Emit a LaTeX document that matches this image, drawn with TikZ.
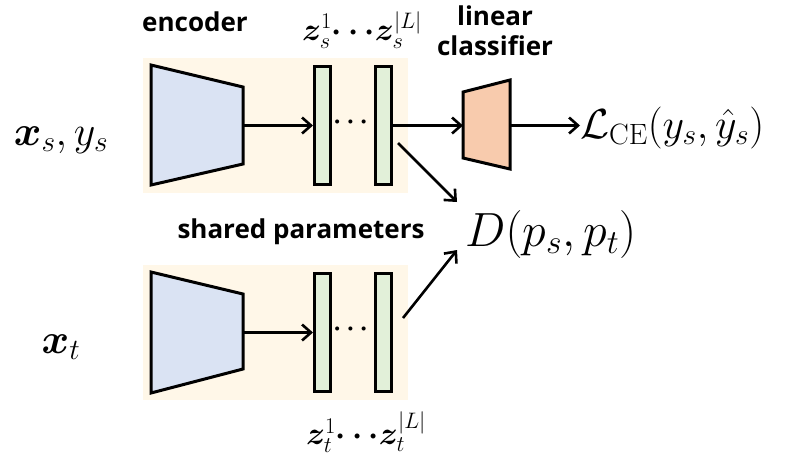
\documentclass[tikz,border=0pt]{standalone}
\usepackage{fix-cm}
\usepackage{amsmath}
\usepackage{bm}
\usepackage{fontspec}
\setsansfont{Open Sans}
\usetikzlibrary{arrows.meta,positioning}

\definecolor{bgyellow}{HTML}{FFF7E8}
\definecolor{encblue}{HTML}{DAE3F3}
\definecolor{bargreen}{HTML}{E2F0D9}
\definecolor{clsorange}{HTML}{F8CBAD}

\tikzset{
  bar/.style={draw,line width=3pt,fill=bargreen,minimum width=16pt,minimum height=118pt,inner sep=0pt},
  netshape/.style={draw,line width=3pt,line join=miter},
  arr/.style={line width=2.6pt,-{Straight Barb[length=9pt,width=16pt,line width=2.6pt]}},
  lbl/.style={font=\sffamily\bfseries\fontsize{26}{30}\selectfont,align=center,inner sep=0pt},
  mth/.style={font=\fontsize{42}{46}\selectfont,inner sep=0pt},
  zlbl/.style={font=\fontsize{32}{34}\selectfont,inner sep=0pt},
}

\begin{document}
\begin{tikzpicture}[x=1pt,y=-1pt]
\useasboundingbox (0,0) rectangle (789,459);

% shaded backgrounds
\fill[bgyellow] (143,58) rectangle (408,193);
\fill[bgyellow] (143,265) rectangle (408,400);

% encoders
\draw[netshape,fill=encblue] (151,65) -- (243,87) -- (243,164) -- (151,185) -- cycle;
\draw[netshape,fill=encblue] (151,272) -- (243,294) -- (243,369) -- (151,393) -- cycle;
\coordinate (encs) at (243,125.5);
\coordinate (enct) at (243,332.5);

% feature bars
\node[bar] (zs1) at (322.5,125.5) {};
\node[bar] (zs2) at (383.5,125.5) {};
\node[bar] (zt1) at (322.5,332.5) {};
\node[bar] (zt2) at (383.5,332.5) {};
\node[font=\fontsize{26}{26}\selectfont,inner sep=0pt] (dotss) at (353,122) {$\boldsymbol{\cdots}$};
\node[font=\fontsize{26}{26}\selectfont,inner sep=0pt] (dotst) at (353,329) {$\boldsymbol{\cdots}$};

% classifier
\draw[netshape,fill=clsorange] (463,92) -- (510,80) -- (510,169) -- (463,158) -- cycle;
\coordinate (clsin) at (463,125.5);
\coordinate (clsout) at (510,125.5);

% labels
\node[lbl] (enclbl) at (195,22) {encoder};
\node[lbl] (clslbl) at (495,31) {linear\\classifier};
\node[lbl] (sharedlbl) at (301,232) {shared parameters};
\node[zlbl] (zslbl) at (362,30) {$\bm{z}_s^1\boldsymbol{\cdots}\bm{z}_s^{|L|}$};
\node[zlbl] (ztlbl) at (366,432) {$\bm{z}_t^1\boldsymbol{\cdots}\bm{z}_t^{|L|}$};
\node[mth] (xs) at (61,140) {$\bm{x}_s, y_s$};
\node[mth] (xt) at (61,347) {$\bm{x}_t$};
\node[mth,anchor=west] (loss) at (580,128) {$\mathcal{L}_{\mathrm{CE}}(y_s,\hat{y}_s)$};
\node[font=\fontsize{48}{52}\selectfont,inner sep=0pt,anchor=west] (dist) at (465,234) {$D(p_s,p_t)$};

% connectors
\draw[arr] (encs) -- (zs1);
\draw[arr] (enct) -- (zt1);
\draw[arr] (zs2) -- (clsin);
\draw[arr] (clsout) -- (clsout -| loss.west);
\draw[arr] ([xshift=5pt,yshift=-17.5pt]zs2.east) -- ([xshift=-8pt,yshift=32pt]dist.west);
\draw[arr] ([xshift=10pt,yshift=14.5pt]zt2.east) -- ([xshift=-8pt,yshift=-16pt]dist.west);
\end{tikzpicture}
\end{document}
